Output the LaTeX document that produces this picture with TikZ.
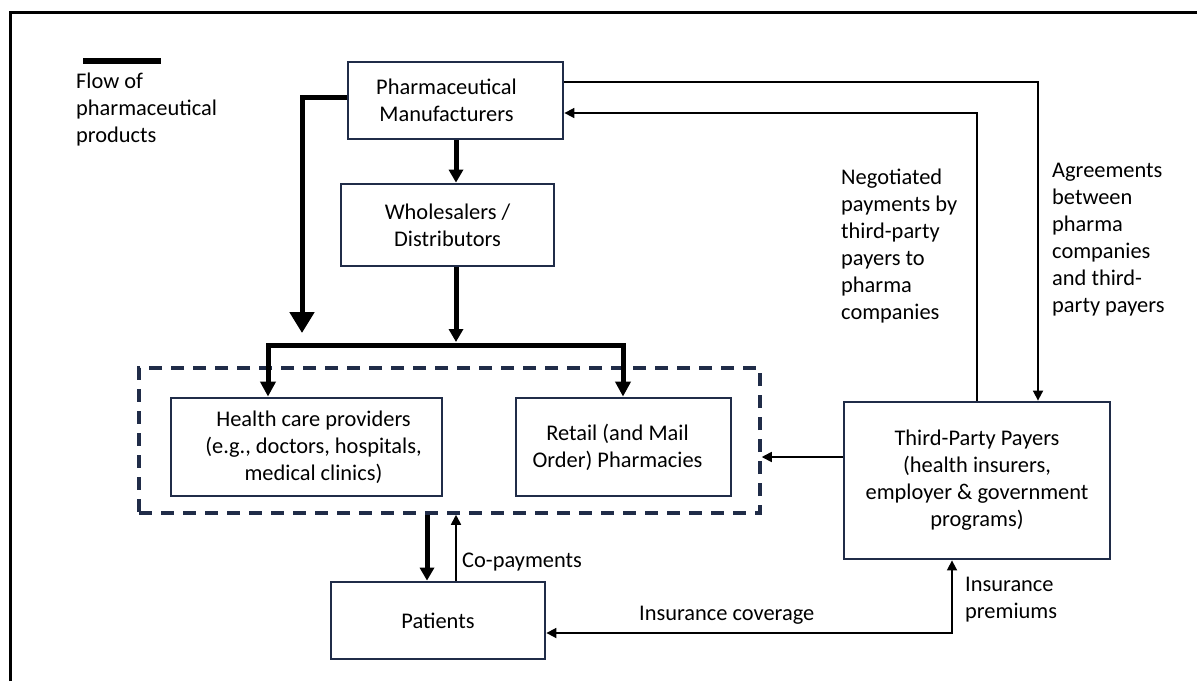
\documentclass[tikz,border=0pt]{standalone}
\usepackage{fontspec}
\setmainfont{Carlito}
\usetikzlibrary{arrows.meta,calc}
\definecolor{navy}{RGB}{32,44,72}
\begin{document}
\begin{tikzpicture}[x=1pt,y=-1pt,
  every node/.style={font=\fontsize{22.4}{27}\selectfont, inner sep=0pt},
  box/.style={draw=navy, line width=2.8pt, align=center},
  grpbox/.style={draw=navy, line width=3.5pt, dash pattern=on 13pt off 9pt},
  flow/.style={line width=5pt},
  thinarrow/.style={line width=1.7pt, -{Triangle[length=10pt,width=10pt]}},
  lbl/.style={align=left, anchor=west},
]
\useasboundingbox (0,0) rectangle (1197,681);
% outer frame (only left and top visible)
\draw[line width=3pt] (10,681) -- (10,12) -- (1197,12);
% legend
\draw[line width=6pt] (83,61) -- (161,61);
\node[lbl] (legend) at (76,110) {Flow of\\pharmaceutical\\products};

% group box
\node[grpbox, minimum width=621pt, minimum height=145pt] (grp) at (449.5,440.5) {};

% boxes
\node[box, minimum width=215pt, minimum height=77pt] (pharma) at (455.5,100.5) {\hspace*{-18pt}Pharmaceutical\\\hspace*{-18pt}Manufacturers};
\node[box, minimum width=213pt, minimum height=82pt] (whole) at (447.5,225) {Wholesalers /\\Distributors};
\node[box, minimum width=271pt, minimum height=98pt] (health) at (306.5,447) {\hspace*{14pt}Health care providers\\\hspace*{14pt}(e.g., doctors, hospitals,\\\hspace*{14pt}medical clinics)};
\node[box, minimum width=215pt, minimum height=98pt] (retail) at (623.5,447) {\hspace*{-12pt}Retail (and Mail\\\hspace*{-12pt}Order) Pharmacies};
\node[box, minimum width=214pt, minimum height=77pt] (pat) at (438,620.5) {Patients};
\node[box, minimum width=266pt, minimum height=157pt] (tpp) at (977,480.5) {Third-Party Payers\\(health insurers,\\employer \& government\\programs)};

% product flows
\draw[flow, -{Triangle[length=21pt,width=24pt]}] ([yshift=3.5pt]pharma.west) -| (302,333);
\draw[flow, -{Triangle[length=13pt,width=14pt]}] (456,0 |- pharma.south) -- (456,0 |- whole.north);
\coordinate (bl) at (268,345);
\coordinate (br) at (623,345);
\draw[flow, -{Triangle[length=13pt,width=14pt]}] (456,0 |- whole.south) -- (456,342);
\draw[flow, {Triangle[length=15pt,width=15pt]}-{Triangle[length=15pt,width=15pt]}]
  (bl |- health.north) -- (bl) -- (br) -- (br |- retail.north);
\draw[flow, -{Triangle[length=13pt,width=14pt]}] ([xshift=-11pt]pat.north |- grp.south) -- ([xshift=-11pt]pat.north);

% money / agreement flows
\draw[thinarrow] ([xshift=18pt]pat.north) -- ([xshift=18pt]pat.north |- grp.south);
\node[lbl] (cop) at (462,562) {Co-payments};
\draw[thinarrow] ([yshift=23.5pt]tpp.west) -- ([yshift=23.5pt]tpp.west -| grp.east);
\draw[thinarrow] ([yshift=18.5pt]pharma.east) -| ([xshift=61pt]tpp.north);
\draw[thinarrow] (tpp.north) |- ([yshift=-12.5pt]pharma.east);
\draw[line width=1.7pt, {Triangle[length=10pt,width=10pt]}-{Triangle[length=10pt,width=10pt]}]
  ([yshift=-12.5pt]pat.east) -| ([xshift=-25pt]tpp.south);

% labels
\node[lbl] (neg) at (841,246) {Negotiated\\payments by\\third-party\\payers to\\pharma\\companies};
\node[lbl] (agr) at (1052,239.5) {Agreements\\between\\pharma\\companies\\and third-\\party payers};
\node[lbl] (cov) at (639,615) {Insurance coverage};
\node[lbl] (prem) at (965,599.5) {Insurance\\premiums};
\end{tikzpicture}
\end{document}
